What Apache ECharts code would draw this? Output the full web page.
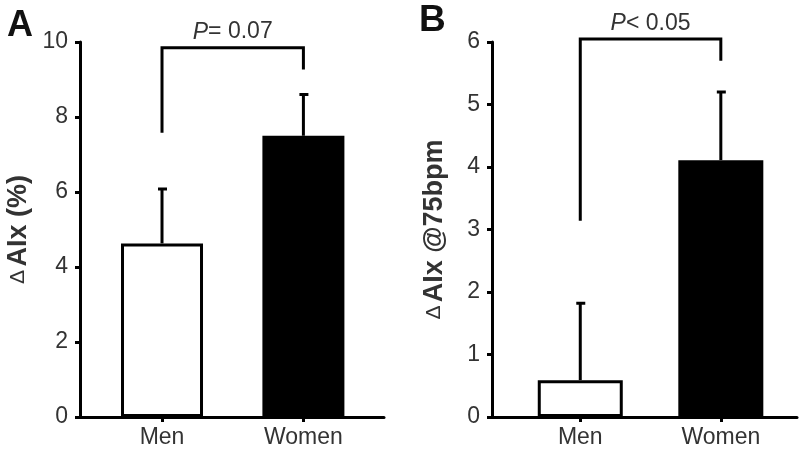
<!DOCTYPE html>
<html><head><meta charset="utf-8">
<script src="https://cdn.jsdelivr.net/npm/echarts@6/dist/echarts.min.js"></script>
<style>html,body{margin:0;padding:0;background:#fff}#c{width:800px;height:450px}</style>
</head><body><div id="c"></div>
<script>
// ---- data ----
const categories = ['Men', 'Women'];
const meanA = [4.63, 7.50];
const seA = [1.45, 1.10];
const meanB = [0.59, 4.11];
const seB = [1.23, 1.09];
const ticksA = [0, 2, 4, 6, 8, 10];
const ticksB = [0, 1, 2, 3, 4, 5, 6];
// bracket: [left leg bottom, right leg bottom, top]
const bracketA = [7.58, 9.27, 9.85];
const bracketB = [3.14, 5.70, 6.05];
const pLabelA = ['P', '= 0.07'];
const pLabelB = ['P', '< 0.05'];
const panelLabels = ['A', 'B'];
const yNamesA = ['Δ', 'AIx (%)'];
const yNamesB = ['Δ', 'AIx @75bpm'];

const FONT = '"Liberation Sans", Arial, sans-serif';
const INK = '#000';
const TXT = '#333';
const pos = [1, 2]; // category slot positions on the x value axis

function barData(means) {
  return means.map((v, i) => ({
    value: [pos[i], v],
    itemStyle: i === 0
      ? { color: '#fff', borderColor: INK, borderWidth: 3 }
      : { color: INK, borderColor: INK, borderWidth: 3 }
  }));
}
function errData(means, ses) {
  return means.map((v, i) => [pos[i], v, v + ses[i]]);
}
function errRender(params, api) {
  const x = api.value(0);
  const p0 = api.coord([x, api.value(1)]);
  const p1 = api.coord([x, api.value(2)]);
  return {
    type: 'group',
    children: [
      { type: 'line', shape: { x1: p0[0], y1: p0[1], x2: p1[0], y2: p1[1] }, style: { stroke: INK, lineWidth: 3 } },
      { type: 'line', shape: { x1: p1[0] - 4, y1: p1[1], x2: p1[0] + 5, y2: p1[1] }, style: { stroke: INK, lineWidth: 3 } }
    ]
  };
}
function bracketRender(label) {
  return function (params, api) {
    const l0 = api.coord([pos[0], api.value(0)]);
    const r0 = api.coord([pos[1], api.value(1)]);
    const lt = api.coord([pos[0], api.value(2)]);
    const rt = api.coord([pos[1], api.value(2)]);
    return {
      type: 'group',
      children: [
        { type: 'polyline', shape: { points: [l0, lt, rt, r0] }, style: { stroke: INK, lineWidth: 3, fill: null } },
        { type: 'text', x: (lt[0] + rt[0]) / 2, y: lt[1] - 4,
          style: { text: '{i|' + label[0] + '}{n|' + label[1] + '}', align: 'center', verticalAlign: 'bottom',
            rich: { i: { fontFamily: FONT, fontSize: 23, fontStyle: 'italic', fill: TXT },
                    n: { fontFamily: FONT, fontSize: 23, fill: TXT } } } }
      ]
    };
  };
}
function xAxisCfg(idx, min, max) {
  return {
    gridIndex: idx, type: 'value', min: min, max: max, z: 10,
    splitLine: { show: false },
    axisLine: { show: true, onZero: false, lineStyle: { color: INK, width: 3 } },
    axisTick: { show: true, customValues: pos, length: 5, lineStyle: { color: INK, width: 3 } },
    axisLabel: { show: true, customValues: pos, formatter: v => categories[Math.round(v) - 1] || '',
      fontFamily: FONT, fontSize: 23, color: TXT, margin: 9 }
  };
}
function yAxisCfg(idx, ticks, name, gap) {
  return {
    gridIndex: idx, type: 'value', min: ticks[0], max: ticks[ticks.length - 1],
    interval: ticks[1] - ticks[0], z: 10,
    splitLine: { show: false },
    axisLine: { show: true, lineStyle: { color: INK, width: 3 } },
    axisTick: { show: true, length: 5, lineStyle: { color: INK, width: 3 } },
    axisLabel: { fontFamily: FONT, fontSize: 23, color: TXT, margin: 12 },
    name: '{d|' + name[0] + '} {b|' + name[1] + '}',
    nameLocation: 'middle', nameGap: gap, nameRotate: 90,
    nameTextStyle: { rich: {
      d: { fontFamily: FONT, fontSize: 21, color: TXT },
      b: { fontFamily: FONT, fontSize: 27, fontWeight: 'bold', color: TXT } } }
  };
}

const chart = echarts.init(document.getElementById('c'), null, { renderer: 'canvas' });
chart.setOption({
  animation: false,
  backgroundColor: '#fff',
  title: [
    { text: panelLabels[0], left: 2, top: 3, textStyle: { fontFamily: FONT, fontSize: 36, fontWeight: 'bold', color: '#111' } },
    { text: panelLabels[1], left: 414, top: -3, textStyle: { fontFamily: FONT, fontSize: 37, fontWeight: 'bold', color: '#111' } }
  ],
  grid: [
    { left: 80, right: 416, top: 42, bottom: 33 },
    { left: 492, right: 3, top: 42, bottom: 33 }
  ],
  xAxis: [xAxisCfg(0, 0.42, 2.57), xAxisCfg(1, 0.372, 2.542)],
  yAxis: [yAxisCfg(0, ticksA, yNamesA, 48), yAxisCfg(1, ticksB, yNamesB, 44)],
  series: [
    { type: 'bar', xAxisIndex: 0, yAxisIndex: 0, barWidth: 82, data: barData(meanA), z: 2 },
    { type: 'custom', xAxisIndex: 0, yAxisIndex: 0, renderItem: errRender, data: errData(meanA, seA), z: 1 },
    { type: 'custom', xAxisIndex: 0, yAxisIndex: 0, renderItem: bracketRender(pLabelA), data: [bracketA], z: 3, clip: false },
    { type: 'bar', xAxisIndex: 1, yAxisIndex: 1, barWidth: 85, data: barData(meanB), z: 2 },
    { type: 'custom', xAxisIndex: 1, yAxisIndex: 1, renderItem: errRender, data: errData(meanB, seB), z: 1 },
    { type: 'custom', xAxisIndex: 1, yAxisIndex: 1, renderItem: bracketRender(pLabelB), data: [bracketB], z: 3, clip: false }
  ]
});
</script></body></html>
